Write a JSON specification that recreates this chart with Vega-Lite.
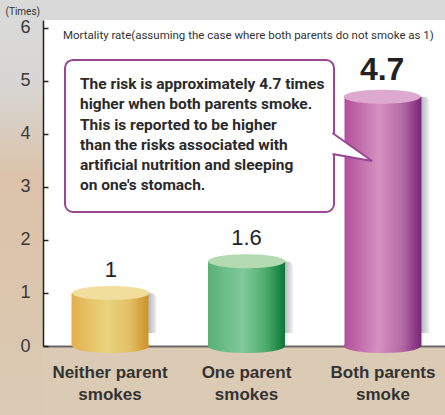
{
  "$schema": "https://vega.github.io/schema/vega-lite/v6.json",
  "width": 402,
  "height": 326,
  "autosize": "none",
  "padding": {"left": 43, "top": 20, "right": 0, "bottom": 69},
  "background": "#dbcab4",
  "config": {"view": {"stroke": null, "fill": "#ffffff"}},
  "data": {"values": [
    {"group": "Neither parent smokes", "rate": 1},
    {"group": "One parent smokes", "rate": 1.6},
    {"group": "Both parents smoke", "rate": 4.7}
  ]},
  "resolve": {"scale": {"x": "independent"}},
  "layer": [
    {
      "data": {"values": [{}]},
      "mark": {"type": "rect", "color": "#d9d9d9"},
      "encoding": {
        "x": {"datum": -0.315, "type": "quantitative", "scale": {"domain": [0, 2.945], "nice": false, "zero": false}, "axis": null},
        "x2": {"datum": 2.98},
        "y": {"datum": 6.15, "type": "quantitative"},
        "y2": {"datum": 6.56}
      }
    },
    {
      "data": {"values": [{}]},
      "mark": {
        "type": "rect",
        "color": {"gradient": "linear", "x1": 0, "y1": 0, "x2": 0, "y2": 1, "stops": [
          {"offset": 0, "color": "#d9d9d9"},
          {"offset": 0.17, "color": "#d8d6d3"},
          {"offset": 0.4, "color": "#dbc2a8"},
          {"offset": 1, "color": "#dbcab4"}
        ]}
      },
      "encoding": {
        "x": {"datum": -0.315, "type": "quantitative", "scale": {"domain": [0, 2.945], "nice": false, "zero": false}, "axis": null},
        "x2": {"datum": 0},
        "y": {"datum": 6.15, "type": "quantitative"},
        "y2": {"datum": -1.4}
      }
    },
    {
      "mark": {
        "type": "bar", "xOffset": 8, "yOffset": -13, "y2Offset": 0, "cornerRadiusTopRight": 6,
        "color": {"gradient": "linear", "x1": 0, "y1": 0, "x2": 1, "y2": 0, "stops": [
          {"offset": 0, "color": "#f3f3f4"},
          {"offset": 0.88, "color": "#eeeef0"},
          {"offset": 0.9, "color": "#b7bac2"},
          {"offset": 1, "color": "#f1f1f3"}
        ]}
      },
      "encoding": {
        "x": {
          "field": "group", "type": "nominal",
          "scale": {
            "domain": ["Neither parent smokes", "One parent smokes", "Both parents smoke"],
            "range": [0, 407], "paddingInner": 0.436, "paddingOuter": 0.209
          },
          "axis": {
            "title": null, "ticks": false, "domainColor": "#666666", "domainWidth": 2,
            "labelAngle": 0, "labelFont": "Liberation Sans", "labelFontWeight": "bold",
            "labelFontSize": 17, "labelColor": "#333333", "labelLineHeight": 22, "labelPadding": 18,
            "labelExpr": "[slice(datum.label, 0, lastindexof(datum.label, ' ')), slice(datum.label, lastindexof(datum.label, ' ') + 1)]"
          }
        },
        "y": {
          "field": "rate", "type": "quantitative",
          "scale": {"domain": [0, 6.15], "nice": false},
          "axis": {
            "orient": "left", "values": [0, 1, 2, 3, 4, 5, 6], "format": "d", "grid": false, "zindex": 1,
            "title": "(Times)", "titleAngle": 0, "titleX": -38, "titleY": -9, "titleAlign": "left",
            "titleBaseline": "middle", "titleFont": "Roboto", "titleFontSize": 10,
            "titleFontWeight": "normal", "titleColor": "#333333",
            "domainColor": "#222222", "domainWidth": 1.5, "tickColor": "#222222", "tickWidth": 1.5,
            "tickSize": -5, "labelPadding": 18,
            "labelFont": "Liberation Sans", "labelFontSize": 18, "labelColor": "#3a3a3a"
          }
        }
      }
    },
    {
      "transform": [{"filter": "datum.group === 'Neither parent smokes'"}],
      "mark": {
        "type": "point", "filled": true, "opacity": 1, "size": 5929,
        "shape": "M-1,0C-1,-0.1005,-0.5523,-0.182,0,-0.182C0.5523,-0.182,1,-0.1005,1,0C1,0.1005,0.5523,0.182,0,0.182C-0.5523,0.182,-1,0.1005,-1,0Z",
        "color": {"gradient": "linear", "x1": 0, "y1": 0, "x2": 1, "y2": 0, "stops": [
          {"offset": 0, "color": "#e3b04e"}, {"offset": 0.45, "color": "#e9d47e"},
          {"offset": 0.75, "color": "#e2c065"}, {"offset": 1, "color": "#cf9128"}
        ]}
      },
      "encoding": {
        "x": {"field": "group", "type": "nominal", "axis": null, "scale": {"domain": ["Neither parent smokes", "One parent smokes", "Both parents smoke"], "range": [0, 407], "paddingInner": 0.436, "paddingOuter": 0.209}},
        "y": {"datum": 0, "type": "quantitative"}
      }
    },
    {
      "transform": [{"filter": "datum.group === 'Neither parent smokes'"}],
      "mark": {
        "type": "bar",
        "color": {"gradient": "linear", "x1": 0, "y1": 0, "x2": 1, "y2": 0, "stops": [
          {"offset": 0, "color": "#e3b04e"}, {"offset": 0.45, "color": "#e9d47e"},
          {"offset": 0.75, "color": "#e2c065"}, {"offset": 1, "color": "#cf9128"}
        ]}
      },
      "encoding": {
        "x": {"field": "group", "type": "nominal", "axis": null, "scale": {"domain": ["Neither parent smokes", "One parent smokes", "Both parents smoke"], "range": [0, 407], "paddingInner": 0.436, "paddingOuter": 0.209}},
        "y": {"field": "rate", "type": "quantitative"}
      }
    },
    {
      "transform": [{"filter": "datum.group === 'One parent smokes'"}],
      "mark": {
        "type": "point", "filled": true, "opacity": 1, "size": 5929,
        "shape": "M-1,0C-1,-0.1005,-0.5523,-0.182,0,-0.182C0.5523,-0.182,1,-0.1005,1,0C1,0.1005,0.5523,0.182,0,0.182C-0.5523,0.182,-1,0.1005,-1,0Z",
        "color": {"gradient": "linear", "x1": 0, "y1": 0, "x2": 1, "y2": 0, "stops": [
          {"offset": 0, "color": "#58b073"}, {"offset": 0.45, "color": "#82c99c"},
          {"offset": 0.75, "color": "#4eac6c"}, {"offset": 1, "color": "#0a7636"}
        ]}
      },
      "encoding": {
        "x": {"field": "group", "type": "nominal", "axis": null, "scale": {"domain": ["Neither parent smokes", "One parent smokes", "Both parents smoke"], "range": [0, 407], "paddingInner": 0.436, "paddingOuter": 0.209}},
        "y": {"datum": 0, "type": "quantitative"}
      }
    },
    {
      "transform": [{"filter": "datum.group === 'One parent smokes'"}],
      "mark": {
        "type": "bar",
        "color": {"gradient": "linear", "x1": 0, "y1": 0, "x2": 1, "y2": 0, "stops": [
          {"offset": 0, "color": "#58b073"}, {"offset": 0.45, "color": "#82c99c"},
          {"offset": 0.75, "color": "#4eac6c"}, {"offset": 1, "color": "#0a7636"}
        ]}
      },
      "encoding": {
        "x": {"field": "group", "type": "nominal", "axis": null, "scale": {"domain": ["Neither parent smokes", "One parent smokes", "Both parents smoke"], "range": [0, 407], "paddingInner": 0.436, "paddingOuter": 0.209}},
        "y": {"field": "rate", "type": "quantitative"}
      }
    },
    {
      "transform": [{"filter": "datum.group === 'Both parents smoke'"}],
      "mark": {
        "type": "point", "filled": true, "opacity": 1, "size": 5929,
        "shape": "M-1,0C-1,-0.1005,-0.5523,-0.182,0,-0.182C0.5523,-0.182,1,-0.1005,1,0C1,0.1005,0.5523,0.182,0,0.182C-0.5523,0.182,-1,0.1005,-1,0Z",
        "color": {"gradient": "linear", "x1": 0, "y1": 0, "x2": 1, "y2": 0, "stops": [
          {"offset": 0, "color": "#b34f9c"}, {"offset": 0.45, "color": "#d592bf"},
          {"offset": 0.75, "color": "#b36aa6"}, {"offset": 1, "color": "#7a2578"}
        ]}
      },
      "encoding": {
        "x": {"field": "group", "type": "nominal", "axis": null, "scale": {"domain": ["Neither parent smokes", "One parent smokes", "Both parents smoke"], "range": [0, 407], "paddingInner": 0.436, "paddingOuter": 0.209}},
        "y": {"datum": 0, "type": "quantitative"}
      }
    },
    {
      "transform": [{"filter": "datum.group === 'Both parents smoke'"}],
      "mark": {
        "type": "bar",
        "color": {"gradient": "linear", "x1": 0, "y1": 0, "x2": 1, "y2": 0, "stops": [
          {"offset": 0, "color": "#b34f9c"}, {"offset": 0.45, "color": "#d592bf"},
          {"offset": 0.75, "color": "#b36aa6"}, {"offset": 1, "color": "#7a2578"}
        ]}
      },
      "encoding": {
        "x": {"field": "group", "type": "nominal", "axis": null, "scale": {"domain": ["Neither parent smokes", "One parent smokes", "Both parents smoke"], "range": [0, 407], "paddingInner": 0.436, "paddingOuter": 0.209}},
        "y": {"field": "rate", "type": "quantitative"}
      }
    },
    {
      "mark": {
        "type": "point", "filled": true, "opacity": 1, "size": 5929,
        "shape": "M-1,0C-1,-0.1005,-0.5523,-0.182,0,-0.182C0.5523,-0.182,1,-0.1005,1,0C1,0.1005,0.5523,0.182,0,0.182C-0.5523,0.182,-1,0.1005,-1,0Z"
      },
      "encoding": {
        "x": {"field": "group", "type": "nominal", "axis": null, "scale": {"domain": ["Neither parent smokes", "One parent smokes", "Both parents smoke"], "range": [0, 407], "paddingInner": 0.436, "paddingOuter": 0.209}},
        "y": {"field": "rate", "type": "quantitative"},
        "color": {
          "field": "group", "type": "nominal", "legend": null,
          "scale": {
            "domain": ["Neither parent smokes", "One parent smokes", "Both parents smoke"],
            "range": ["#f2de9c", "#b3dab0", "#dea9d0"]
          }
        }
      }
    },
    {
      "transform": [{"filter": "datum.rate < 4"}],
      "mark": {"type": "text", "baseline": "alphabetic", "dy": -16, "font": "Liberation Sans", "fontSize": 22, "color": "#222222"},
      "encoding": {
        "x": {"field": "group", "type": "nominal", "axis": null, "scale": {"domain": ["Neither parent smokes", "One parent smokes", "Both parents smoke"], "range": [0, 407], "paddingInner": 0.436, "paddingOuter": 0.209}},
        "y": {"field": "rate", "type": "quantitative"},
        "text": {"field": "rate", "type": "quantitative"}
      }
    },
    {
      "transform": [{"filter": "datum.rate >= 4"}],
      "mark": {"type": "text", "baseline": "alphabetic", "dy": -17, "font": "Liberation Sans", "fontSize": 32, "fontWeight": "bold", "color": "#222222"},
      "encoding": {
        "x": {"field": "group", "type": "nominal", "axis": null, "scale": {"domain": ["Neither parent smokes", "One parent smokes", "Both parents smoke"], "range": [0, 407], "paddingInner": 0.436, "paddingOuter": 0.209}},
        "y": {"field": "rate", "type": "quantitative"},
        "text": {"field": "rate", "type": "quantitative"}
      }
    },
    {
      "data": {"values": [{"caption": "Mortality rate(assuming the case where both parents do not smoke as 1)"}]},
      "mark": {"type": "text", "align": "left", "baseline": "middle", "font": "Roboto", "fontSize": 11.5, "color": "#333333"},
      "encoding": {
        "x": {"datum": 0.1465, "type": "quantitative", "scale": {"domain": [0, 2.945], "nice": false, "zero": false}, "axis": null},
        "y": {"datum": 5.849, "type": "quantitative"},
        "text": {"field": "caption"}
      }
    },
    {
      "data": {"values": [{}]},
      "mark": {"type": "rect", "fill": "#ffffff", "stroke": "#9a4793", "strokeWidth": 2, "cornerRadius": 8},
      "encoding": {
        "x": {"datum": 0.161, "type": "quantitative", "scale": {"domain": [0, 2.945], "nice": false, "zero": false}, "axis": null},
        "x2": {"datum": 2.132},
        "y": {"datum": 5.396, "type": "quantitative"},
        "y2": {"datum": 2.528}
      }
    },
    {
      "data": {"values": [{}]},
      "mark": {
        "type": "point", "filled": true, "opacity": 1, "size": 441,
        "shape": "M-0.15,-1L3.62,1.67L-0.15,1",
        "fill": "#ffffff", "stroke": "#9a4793", "strokeWidth": 2
      },
      "encoding": {
        "x": {"datum": 2.132, "type": "quantitative", "scale": {"domain": [0, 2.945], "nice": false, "zero": false}, "axis": null},
        "y": {"datum": 3.821, "type": "quantitative"}
      }
    },
    {
      "data": {"values": [{"note": "The risk is approximately 4.7 times\nhigher when both parents smoke.\nThis is reported to be higher\nthan the risks associated with\nartificial nutrition and sleeping\non one's stomach."}]},
      "mark": {
        "type": "text", "align": "left", "baseline": "top", "lineBreak": "\n", "lineHeight": 20.3,
        "font": "Roboto", "fontSize": 15.5, "fontWeight": "bold", "color": "#2a2a2a"
      },
      "encoding": {
        "x": {"datum": 0.271, "type": "quantitative", "scale": {"domain": [0, 2.945], "nice": false, "zero": false}, "axis": null},
        "y": {"datum": 5.075, "type": "quantitative"},
        "text": {"field": "note"}
      }
    }
  ]
}
